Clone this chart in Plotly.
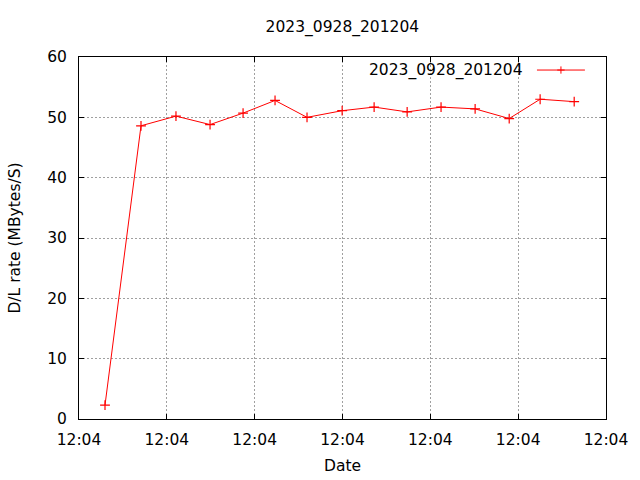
import plotly.graph_objects as go
import datetime as dt

# Data
seconds = [1.48, 3.53, 5.52, 7.46, 9.34, 11.16, 12.98, 14.98, 16.80, 18.68, 20.61, 22.55, 24.49, 26.25, 28.19]
rates = [2.3, 48.6, 50.2, 48.8, 50.7, 52.8, 50.0, 51.1, 51.7, 50.9, 51.7, 51.4, 49.8, 53.0, 52.6]
series_name = "2023_0928_201204"
x_title = "Date"
y_title = "D/L rate (MBytes/S)"

base = dt.datetime(2023, 9, 28, 12, 4, 0)
times = [base + dt.timedelta(seconds=s) for s in seconds]

FONT = "DejaVu Sans"
FS = 15.5
RED = "#ff0000"

fig = go.Figure()
fig.add_trace(go.Scatter(
    x=times, y=rates, mode="lines+markers", name=series_name,
    line=dict(color=RED, width=1),
    marker=dict(symbol="cross-thin", size=7, line=dict(color=RED, width=1.2), color=RED),
    showlegend=False,
))

axis_common = dict(
    showline=True, linecolor="black", linewidth=1, mirror="ticks",
    ticks="inside", ticklen=5, tickcolor="black", tickwidth=1,
    showgrid=True, gridcolor="#a0a0a0", griddash="2px,2px", gridwidth=1,
    zeroline=False, automargin=False,
    tickfont=dict(family=FONT, size=FS, color="black"),
)

fig.update_layout(
    width=640, height=480,
    margin=dict(l=79, r=34, t=57, b=61, autoexpand=False),
    paper_bgcolor="white", plot_bgcolor="white",
    font=dict(family=FONT, size=FS, color="black"),
    title=dict(text=series_name, x=0.535, xanchor="center", y=1 - 27 / 480, yanchor="middle",
               font=dict(family=FONT, size=FS)),
    xaxis=dict(axis_common, type="date",
               range=[base, base + dt.timedelta(seconds=30)],
               dtick=5000, tick0=base, tickformat="%H:%M",
               ticklabelstandoff=6,
               title=dict(text=x_title, standoff=12, font=dict(family=FONT, size=FS))),
    yaxis=dict(axis_common, range=[0, 60], dtick=10,
               ticklabelstandoff=8,
               title=dict(text=y_title, standoff=22, font=dict(family=FONT, size=FS))),
)

# gnuplot-style key: text then line sample with marker
fig.add_annotation(xref="paper", yref="paper", x=0.846, y=0.964, xanchor="right", yanchor="middle",
                   text=series_name, showarrow=False, font=dict(family=FONT, size=FS, color="black"))
fig.add_shape(type="line", xref="paper", yref="paper", x0=0.869, x1=0.960, y0=0.964, y1=0.964,
              line=dict(color=RED, width=1))
fig.add_shape(type="line", xref="paper", yref="paper", x0=0.9145 - 0.007, x1=0.9145 + 0.007,
              y0=0.964, y1=0.964, line=dict(color=RED, width=1))
fig.add_shape(type="line", xref="paper", yref="paper", x0=0.9145, x1=0.9145,
              y0=0.964 - 0.010, y1=0.964 + 0.010, line=dict(color=RED, width=1))

fig.write_html("out.html", config={"displayModeBar": False},
               post_script="document.body.style.margin='0';")
